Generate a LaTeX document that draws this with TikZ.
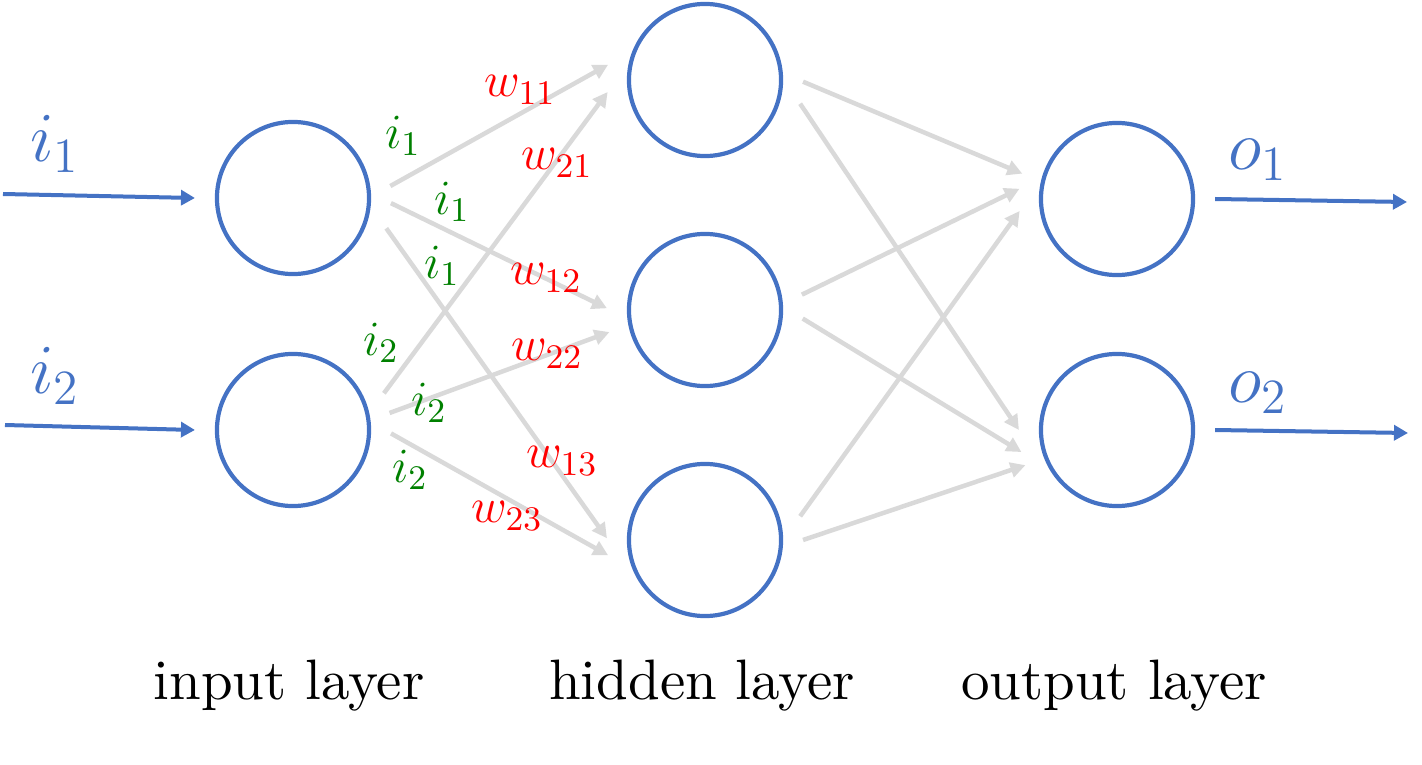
\RequirePackage{fix-cm}
\documentclass[tikz,border=0pt]{standalone}
\usepackage{fontspec}
\usetikzlibrary{arrows.meta}

\newfontfamily\layerfont{lmroman10-regular}[Extension=.otf]

\definecolor{nnblue}{RGB}{68,114,196}
\definecolor{nngray}{RGB}{217,217,217}
\definecolor{nngreen}{RGB}{0,128,0}
\definecolor{nnred}{RGB}{255,0,0}

\tikzset{
    neuron/.style={circle, draw=nnblue, line width=0.042cm, minimum size=1.52cm, inner sep=0pt, outer sep=0.22cm},
    link/.style={draw=nngray, line width=0.045cm, -{Triangle[length=0.15cm,width=0.15cm]}},
    feed/.style={draw=nnblue, line width=0.04cm, -{Triangle[length=0.14cm,width=0.15cm]}},
    iolab/.style={text=nnblue, inner sep=0pt, font=\fontsize{20}{24}\selectfont},
    ilab/.style={text=nngreen, inner sep=0pt, font=\fontsize{14}{17}\selectfont},
    wlab/.style={text=nnred, inner sep=0pt, font=\fontsize{14}{17}\selectfont},
    layer/.style={anchor=base, inner sep=0pt, font=\layerfont\fontsize{16.2}{19}\selectfont}
}

\begin{document}
\begin{tikzpicture}[x=0.01cm, y=-0.01cm]

        \useasboundingbox (0,0) rectangle (1422,764);

        % neurons
        \node[neuron] (in1) at (293,198) {};
        \node[neuron] (in2) at (293,430) {};
        \node[neuron] (hid1) at (705,80) {};
        \node[neuron] (hid2) at (705,310) {};
        \node[neuron] (hid3) at (705,540) {};
        \node[neuron] (out1) at (1117,199) {};
        \node[neuron] (out2) at (1117,430) {};

        % free ends of the input and output arrows
        \coordinate (x1) at (3,194);
        \coordinate (x2) at (5,425);
        \coordinate (y1) at (1407,202);
        \coordinate (y2) at (1408,433);

        \draw[feed] (x1) -- (in1.west);
        \draw[feed] (x2) -- (in2.west);
        \draw[feed] (out1.east) -- (y1);
        \draw[feed] (out2.east) -- (y2);

        % weights
        \foreach \s/\e in {in1.7/hid1.171, in1.357/hid2.179, in1.342/hid3.179,
                           in2.22/hid1.187, in2.10/hid2.193, in2.358/hid3.189,
                           hid1.359/out1.165, hid1.346/out2.180,
                           hid2.9/out1.174, hid2.355/out2.193,
                           hid3.14/out1.187, hid3.0/out2.201}{
            \draw[link] (\s) -- (\e);
 }

        % labels
        \node[iolab] (li1) at (55,144) {$i_1$};
        \node[iolab] (li2) at (55,376) {$i_2$};
        \node[iolab] (lo1) at (1258,160) {$o_1$};
        \node[iolab] (lo2) at (1258,393) {$o_2$};

        \node[ilab] (a1) at (403,136) {$i_1$};
        \node[ilab] (a2) at (452,202) {$i_1$};
        \node[ilab] (a3) at (442,266) {$i_1$};
        \node[ilab] (b1) at (381,343) {$i_2$};
        \node[ilab] (b2) at (429,403) {$i_2$};
        \node[ilab] (b3) at (410,470) {$i_2$};

        \node[wlab] (w11) at (520,90) {$w_{11}$};
        \node[wlab] (w21) at (557,163) {$w_{21}$};
        \node[wlab] (w12) at (546,278) {$w_{12}$};
        \node[wlab] (w22) at (547,354) {$w_{22}$};
        \node[wlab] (w13) at (562,461) {$w_{13}$};
        \node[wlab] (w23) at (507,516) {$w_{23}$};

        % layer names
        \node[layer] (lin) at (289,699) {input layer};
        \node[layer] (lhid) at (702,699) {hidden layer};
        \node[layer] (lout) at (1114,699) {output layer};

        \end{tikzpicture}
\end{document}
